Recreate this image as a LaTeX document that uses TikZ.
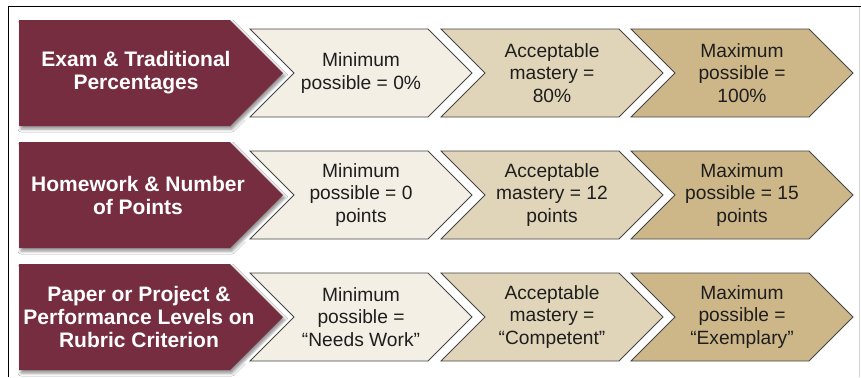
\documentclass[tikz,border=0pt]{standalone}
\usepackage{fontspec}
\setmainfont{Liberation Sans}
\usetikzlibrary{shadows.blur}
\definecolor{maroon}{RGB}{119,45,64}
\definecolor{chevA}{RGB}{243,239,228}
\definecolor{chevB}{RGB}{225,213,185}
\definecolor{chevC}{RGB}{205,183,137}
\definecolor{chevline}{RGB}{70,70,70}
\definecolor{txtdark}{RGB}{30,30,30}
\begin{document}
\begin{tikzpicture}[x=1bp,y=-1bp,
  catbox/.style={fill=maroon, blur shadow={shadow xshift=2bp, shadow yshift=-3bp, shadow blur radius=3bp, shadow opacity=45}},
  chevbox/.style={fill=#1, draw=chevline, line width=0.75bp, line join=miter, preaction={draw=white, line width=5bp}},
  cattext/.style={text=white, font=\bfseries\fontsize{21bp}{23bp}\selectfont, align=center, inner sep=0pt},
  chevtext/.style={text=txtdark, font=\fontsize{19.2bp}{22.5bp}\selectfont, align=center, inner sep=0pt}]
\useasboundingbox (0,0) rectangle (861,377);
\fill[white] (0,0) rectangle (861,377);

% outer frame
\draw[line width=1.6bp] (8.5,377) -- (8.5,6.5) -- (861,6.5);
\draw[gray!35, line width=0.8bp] (859.5,7.3) -- (859.5,377);

% category arrows and the three level chevrons of each row
\foreach \cy in {73,195,317}{
  \path[catbox] (19,\cy-53) -- (230,\cy-53) -- (283,\cy) -- (230,\cy+53) -- (19,\cy+53) -- cycle;
  \foreach \L/\col in {250/chevA,441/chevB,631/chevC}{
    \path[chevbox=\col] (\L,\cy-44) -- ++(178,0) -- ++(44,44) -- ++(-44,44) -- ++(-178,0) -- ++(44,-44) -- cycle;
  }
}

% row 1
\node[cattext] (cat1) at (136,73) {Exam \& Traditional\\Percentages};
\node[chevtext] (min1) at (361,73) {Minimum\\possible = 0\%};
\node[chevtext] (acc1) at (552,73) {Acceptable\\mastery =\\80\%};
\node[chevtext] (max1) at (742,73) {Maximum\\possible =\\100\%};

% row 2
\node[cattext] (cat2) at (138,195) {Homework \& Number\\of Points};
\node[chevtext] (min2) at (361,195) {Minimum\\possible = 0\\points};
\node[chevtext] (acc2) at (552,195) {Acceptable\\mastery = 12\\points};
\node[chevtext] (max2) at (742,195) {Maximum\\possible = 15\\points};

% row 3
\node[cattext] (cat3) at (139,317) {Paper or Project \&\\Performance Levels on\\Rubric Criterion};
\node[chevtext] (min3) at (361,317) {Minimum\\possible =\\“Needs Work”};
\node[chevtext] (acc3) at (552,317) {Acceptable\\mastery =\\“Competent”};
\node[chevtext] (max3) at (742,317) {Maximum\\possible =\\“Exemplary”};
\end{tikzpicture}
\end{document}
